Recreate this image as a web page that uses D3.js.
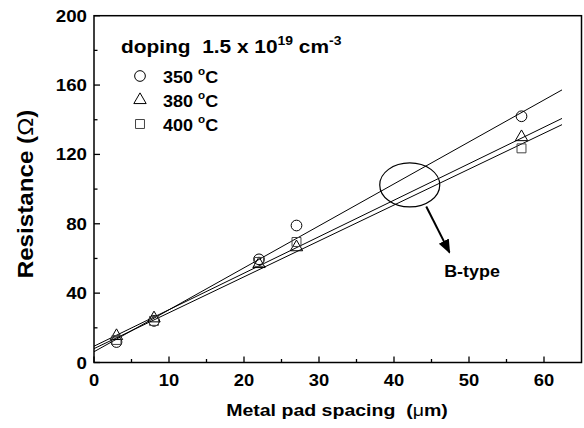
<!DOCTYPE html>
<html>
<head>
<meta charset="utf-8">
<script src="https://cdn.jsdelivr.net/npm/d3@7/dist/d3.min.js"></script>
<style>
  html, body { margin: 0; padding: 0; background: #fff; }
  svg text { font-family: Arial, "Liberation Sans", sans-serif; font-weight: bold; fill: #000; }
</style>
</head>
<body>
<svg id="chart" width="584" height="428"></svg>
<script>
const spacing = [3, 8, 22, 27, 57];
const r350 = [11.8, 24, 59.5, 79, 142];
const r380 = [15.3, 25.5, 56.8, 66.5, 130];
const r400 = [13, 24, 58, 69.5, 123.5];

// linear fits drawn as straight lines (intercept, slope) over 0..62.4 um
const fits = [
  { a: 6.2, b: 2.42 },
  { a: 9.4, b: 2.105 },
  { a: 8.0, b: 2.07 },
];
const fitEnd = 62.4;

const xTicks = [0, 10, 20, 30, 40, 50, 60];
const xMinor = [5, 15, 25, 35, 45, 55];
const yTicks = [0, 40, 80, 120, 160, 200];
const yMinor = [20, 60, 100, 140, 180];

const legendLabels = ["350", "380", "400"];

const svg = d3.select("#chart");
const x = d3.scaleLinear().domain([0, 65]).range([94, 581.5]);
const y = d3.scaleLinear().domain([0, 200]).range([362.5, 15.7]);

// the original lettering is a bit wider than Arial, so stretch it horizontally
function label(px, py, size, sx, anchor = "start", rot = 0) {
  return svg.append("g")
    .attr("transform", `translate(${px},${py}) rotate(${rot}) scale(${sx},1)`)
    .append("text").attr("text-anchor", anchor).attr("font-size", size);
}

function drawFrame() {
  svg.append("rect")
    .attr("x", x(0)).attr("y", y(200))
    .attr("width", x(65) - x(0)).attr("height", y(0) - y(200))
    .attr("fill", "none").attr("stroke", "#000").attr("stroke-width", 1.5);

  const g = svg.append("g");
  xTicks.forEach((t) => {
    g.append("line").attr("x1", x(t)).attr("x2", x(t)).attr("y1", y(0)).attr("y2", y(0) - 6)
      .attr("stroke", "#000").attr("stroke-width", 1.3);
    label(x(t), 386, 17, 1.08, "middle").text(t);
  });
  xMinor.forEach((t) => {
    g.append("line").attr("x1", x(t)).attr("x2", x(t)).attr("y1", y(0)).attr("y2", y(0) - 3.5)
      .attr("stroke", "#000").attr("stroke-width", 1.3);
  });
  yTicks.forEach((t) => {
    g.append("line").attr("x1", x(0)).attr("x2", x(0) + 6).attr("y1", y(t)).attr("y2", y(t))
      .attr("stroke", "#000").attr("stroke-width", 1.3);
    label(87, y(t) + 6, 17, 1.1, "end").text(t);
  });
  yMinor.forEach((t) => {
    g.append("line").attr("x1", x(0)).attr("x2", x(0) + 3.5).attr("y1", y(t)).attr("y2", y(t))
      .attr("stroke", "#000").attr("stroke-width", 1.3);
  });

  const xt = label(337, 416, 17, 1.15, "middle");
  xt.append("tspan").text("Metal pad spacing\u00a0\u00a0(");
  xt.append("tspan").attr("font-weight", "normal").text("\u03bc");
  xt.append("tspan").text("m)");

  const yt = label(33, 194, 22, 1.1, "middle", -90);
  yt.append("tspan").text("Resistance (");
  yt.append("tspan").attr("font-weight", "normal").text("\u03a9");
  yt.append("tspan").text(")");
}

function drawFits() {
  const line = d3.line().x((d) => x(d[0])).y((d) => y(d[1]));
  fits.forEach((f) => {
    svg.append("path")
      .attr("d", line([[0, f.a], [fitEnd, f.a + f.b * fitEnd]]))
      .attr("fill", "none").attr("stroke", "#000").attr("stroke-width", 1);
  });
}

const shapes = [
  d3.symbol().type(d3.symbolCircle).size(90),
  d3.symbol().type(d3.symbolTriangle).size(66),
  d3.symbol().type(d3.symbolSquare).size(80),
];

function drawPoints() {
  [r350, r380, r400].forEach((series, i) => {
    svg.append("g").selectAll("path").data(series).join("path")
      .attr("transform", (d, j) => `translate(${x(spacing[j])},${y(d)})`)
      .attr("d", shapes[i]())
      .attr("fill", "none").attr("stroke", i === 2 ? "#444" : "#000").attr("stroke-width", 1);
  });
}

function drawLegend() {
  const head = label(121, 53, 18, 1.16);
  head.append("tspan").text("doping\u00a0\u00a01.5 x 10");
  head.append("tspan").attr("font-size", 12).attr("dy", -8).text("19");
  head.append("tspan").attr("dy", 8).text(" cm");
  head.append("tspan").attr("font-size", 12).attr("dy", -8).text("-3");

  legendLabels.forEach((lab, i) => {
    const cy = 76 + i * 24;
    svg.append("path").attr("transform", `translate(140,${cy})`)
      .attr("d", shapes[i]()).attr("fill", "none")
      .attr("stroke", i === 2 ? "#444" : "#000").attr("stroke-width", 1);
    const t = label(163, cy + 7, 17, 1.06);
    t.append("tspan").text(lab + " ");
    t.append("tspan").attr("font-size", 11).attr("dy", -8).text("o");
    t.append("tspan").attr("dy", 8).text("C");
  });
}

function drawAnnotation() {
  svg.append("ellipse")
    .attr("cx", x(42.1)).attr("cy", y(102.4))
    .attr("rx", x(4) - x(0)).attr("ry", y(0) - y(12.7))
    .attr("fill", "none").attr("stroke", "#000").attr("stroke-width", 1.2);

  svg.append("defs").append("marker").attr("id", "arrow")
    .attr("viewBox", "0 0 10 10").attr("refX", 9).attr("refY", 5)
    .attr("markerWidth", 7).attr("markerHeight", 7).attr("orient", "auto")
    .append("path").attr("d", "M0,1 L10,5 L0,9 Z").attr("fill", "#000");

  svg.append("line")
    .attr("x1", x(44.3)).attr("y1", y(90))
    .attr("x2", x(47.4)).attr("y2", y(63.5))
    .attr("stroke", "#000").attr("stroke-width", 2)
    .attr("marker-end", "url(#arrow)");

  label(472, 277, 16, 1.12, "middle").text("B-type");
}

drawFits();
drawPoints();
drawFrame();
drawLegend();
drawAnnotation();
</script>
</body>
</html>
